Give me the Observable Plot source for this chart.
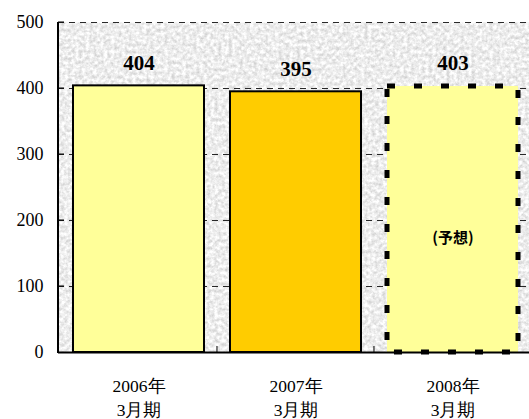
<!DOCTYPE html>
<html>
<head>
<meta charset="utf-8">
<script src="https://cdn.jsdelivr.net/npm/d3@7"></script>
<script src="https://cdn.jsdelivr.net/npm/@observablehq/plot@0.6"></script>
<style>
  html, body { margin: 0; padding: 0; background: #fff; }
  #chart svg { display: block; }
  #chart svg text { font-family: 'Liberation Serif', 'Times New Roman', serif; }
  #chart svg text.cjk { font-family: 'Noto Sans CJK JP', sans-serif; }
</style>
</head>
<body>
<div id="chart"></div>
<script>
const categories = ["2006年\n3月期", "2007年\n3月期", "2008年\n3月期"];
const values = [404, 395, 403];
const barColors = ["#FFFF99", "#FFCC00", "#FFFF99"];
const isForecast = [false, false, true];
const yTicks = [0, 100, 200, 300, 400, 500];
const gridValues = [100, 200, 300, 400, 500];
const forecastNote = "(予想)";
const forecastNoteValue = 173;

const data = categories.map((c, i) => ({cat: c, value: values[i], color: barColors[i], forecast: isForecast[i]}));
const actual = data.filter(d => !d.forecast);
const forecast = data.filter(d => d.forecast);
const serif = "'Liberation Serif', 'Times New Roman', serif";

const plot = Plot.plot({
  width: 529,
  height: 419,
  marginLeft: 58,
  marginRight: 0,
  marginTop: 22,
  marginBottom: 67,
  style: "font-family: 'Liberation Serif', serif; font-size: 18px; color: #000; background: transparent; overflow: visible;",
  x: {domain: categories, range: [58, 533], paddingInner: 0.166, paddingOuter: 0.0955, axis: null},
  y: {domain: [0, 500], ticks: yTicks, tickSize: 0, tickPadding: 15, label: null, fontSize: 18},
  marks: [
    Plot.frame({fill: "#ececec", stroke: null}),
    Plot.ruleY(gridValues, {stroke: "#111", strokeWidth: 0.9, strokeDasharray: "6,5"}),
    Plot.barY(actual, {x: "cat", y: "value", fill: d => d.color, stroke: "#000", strokeWidth: 2}),
    Plot.barY(forecast, {x: "cat", y: "value", fill: d => d.color, stroke: "#000", strokeWidth: 5, strokeDasharray: "8,19"}),
    Plot.text(data, {x: "cat", y: "value", text: d => String(d.value), dy: -23, fontWeight: "bold", fontSize: 21, fontFamily: serif}),
    Plot.text(forecast, {x: "cat", y: () => forecastNoteValue, text: () => forecastNote, fontWeight: "bold", fontSize: 15}),
    Plot.text(data, {x: "cat", text: "cat", frameAnchor: "bottom", lineAnchor: "top", dy: 22, lineHeight: 1.4, fontSize: 17.5, fontFamily: serif}),
    Plot.ruleY([0], {stroke: "#000", strokeWidth: 2})
  ]
});

const svg = d3.select(plot);
svg.selectAll("text").filter(function() { return this.textContent === forecastNote; }).attr("class", "cjk").attr("font-family", "'Noto Sans CJK JP', sans-serif");

// granite texture on the frame
const defs = svg.insert("defs", ":first-child");
const f = defs.append("filter").attr("id", "granite").attr("x", 0).attr("y", 0).attr("width", 1).attr("height", 1)
  .attr("color-interpolation-filters", "sRGB");
f.append("feTurbulence").attr("type", "fractalNoise").attr("baseFrequency", 0.28).attr("numOctaves", 3).attr("seed", 11).attr("result", "n");
f.append("feColorMatrix").attr("in", "n").attr("type", "matrix")
  .attr("values", "0.32 0 0 0 0.77  0.32 0 0 0 0.77  0.32 0 0 0 0.77  0 0 0 0 1").attr("result", "g");
f.append("feComposite").attr("in", "g").attr("in2", "SourceGraphic").attr("operator", "in");
svg.selectAll("[aria-label=frame]").attr("filter", "url(#granite)");

const xs = plot.scale("x");
const ys = plot.scale("y");
const step = xs.step;
const y0 = ys.apply(0), yTop = ys.apply(500);
const extra = svg.append("g").attr("stroke", "#000");
extra.append("line").attr("x1", 58).attr("x2", 58).attr("y1", yTop).attr("y2", y0 + 1).attr("stroke-width", 2);
categories.slice(1).forEach(c => {
  const bx = xs.apply(c) - xs.paddingInner * step / 2;
  extra.append("line").attr("x1", bx).attr("x2", bx).attr("y1", y0).attr("y2", y0 - 6).attr("stroke-width", 1);
});
yTicks.slice(1).forEach(v => {
  extra.append("line").attr("x1", 58).attr("x2", 64).attr("y1", ys.apply(v)).attr("y2", ys.apply(v)).attr("stroke-width", 1);
});

document.getElementById("chart").append(plot);
</script>
</body>
</html>
